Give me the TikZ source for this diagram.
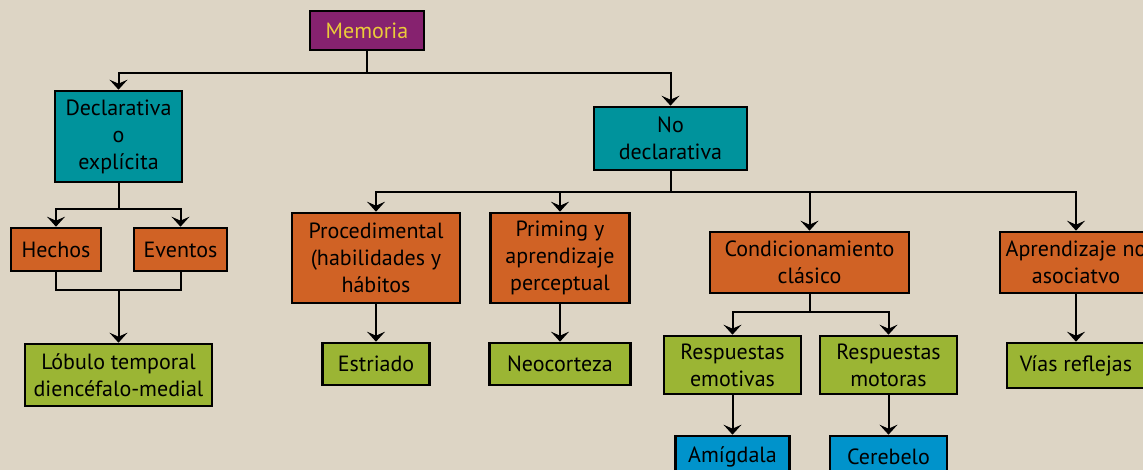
\documentclass[tikz,border=0pt]{standalone}
\usepackage{fontspec}
\setmainfont{PT Sans}
\usetikzlibrary{arrows.meta}
\definecolor{bg}{HTML}{DDD5C5}
\definecolor{cpurple}{HTML}{86226F}
\definecolor{cyellow}{HTML}{EBCB3A}
\definecolor{cteal}{HTML}{00939C}
\definecolor{corange}{HTML}{D06225}
\definecolor{cgreen}{HTML}{9BB534}
\definecolor{cblue}{HTML}{0093CB}
\tikzset{
  box/.style={draw=black, line width=2.6pt, inner sep=0pt, align=center,
    font=\fontsize{22}{27}\selectfont, text=black},
  conn/.style={line width=2pt, draw=black},
  arr/.style={conn, -{Stealth[length=10pt,width=18pt,inset=4pt]}},
}
\begin{document}
\begin{tikzpicture}[x=1pt,y=-1pt]
\useasboundingbox (0,0) rectangle (1143,470);
\fill[bg] (0,0) rectangle (1143,470);
\clip (0,0) rectangle (1143,470);
% nodes
\node[box, fill=cpurple, text=cyellow, minimum width=114pt, minimum height=39pt] (mem) at (367,30.5) {Memoria};
\node[box, fill=cteal, minimum width=127pt, minimum height=91pt] (decl) at (118.5,136.5) {Declarativa\\o\\explícita};
\node[box, fill=cteal, minimum width=153pt, minimum height=63pt] (nodecl) at (670.5,138.5) {No\\declarativa};
\node[box, fill=corange, minimum width=90pt, minimum height=43pt] (hechos) at (56,249.5) {Hechos};
\node[box, fill=corange, minimum width=93pt, minimum height=43pt] (eventos) at (180.5,249.5) {Eventos};
\node[box, fill=cgreen, minimum width=187pt, minimum height=62pt] (lobulo) at (118.5,375) {Lóbulo temporal\\diencéfalo-medial};
\node[box, fill=corange, minimum width=168pt, minimum height=90pt] (proc) at (376,258) {Procedimental\\(habilidades y\\hábitos};
\node[box, fill=corange, minimum width=139pt, minimum height=90pt] (prim) at (560,258) {Priming y\\aprendizaje\\perceptual};
\node[box, fill=cgreen, minimum width=107pt, minimum height=42pt] (estr) at (376,364) {Estriado};
\node[box, fill=cgreen, minimum width=141pt, minimum height=42pt] (neo) at (560,364) {Neocorteza};
\node[box, fill=corange, minimum width=199pt, minimum height=61pt] (cond) at (809.5,262.5) {Condicionamiento\\clásico};
\node[box, fill=corange, minimum width=152pt, minimum height=61pt] (apr) at (1076,262.5) {Aprendizaje no\\asociatvo};
\node[box, fill=cgreen, minimum width=138pt, minimum height=45pt] (vias) at (1076,365.5) {Vías reflejas};
\node[box, fill=cgreen, minimum width=137pt, minimum height=58pt] (remo) at (732.5,365) {Respuestas\\emotivas};
\node[box, fill=cgreen, minimum width=137pt, minimum height=58pt] (rmot) at (888.5,365) {Respuestas\\motoras};
\node[box, fill=cblue, minimum width=114pt, minimum height=42pt] (amig) at (732.5,457) {Amígdala};
\node[box, fill=cblue, minimum width=117pt, minimum height=42pt] (cereb) at (888.5,457) {Cerebelo};
% junctions
\coordinate (j1) at (367,73);
\coordinate (j2) at (118.5,209);
\coordinate (j3) at (118.5,290);
\coordinate (j4) at (670.5,192);
\coordinate (j5) at (809.5,312);
% connectors
\draw[conn] (mem.south) -- (j1);
\draw[arr] (j1) -| (decl.north);
\draw[arr] (j1) -| (nodecl.north);
\draw[conn] (decl.south) -- (j2);
\draw[arr] (j2) -| (hechos.north);
\draw[arr] (j2) -| (eventos.north);
\draw[conn] (hechos.south) |- (j3) -| (eventos.south);
\draw[arr] (j3) -- (lobulo.north);
\draw[conn] (nodecl.south) -- (j4);
\draw[arr] (j4) -| (proc.north);
\draw[arr] (j4) -| (prim.north);
\draw[arr] (j4) -| (cond.north);
\draw[arr] (j4) -| (apr.north);
\draw[arr] (proc.south) -- (estr.north);
\draw[arr] (prim.south) -- (neo.north);
\draw[conn] (cond.south) -- (j5);
\draw[arr] (j5) -| (remo.north);
\draw[arr] (j5) -| (rmot.north);
\draw[arr] (apr.south) -- (vias.north);
\draw[arr] (remo.south) -- (amig.north);
\draw[arr] (rmot.south) -- (cereb.north);
\end{tikzpicture}
\end{document}
